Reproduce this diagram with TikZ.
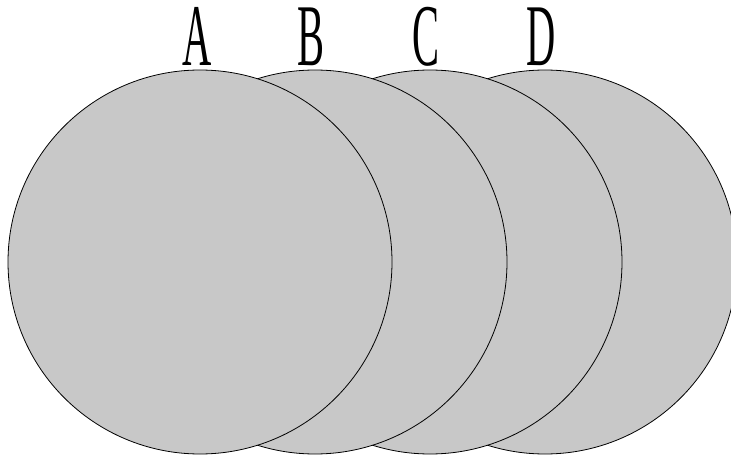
\documentclass[tikz,border=0pt]{standalone}
\usepackage{fontspec}
\setmainfont{Liberation Serif}
\begin{document}
\begin{tikzpicture}[x=1pt,y=-1pt,
  disc/.style={circle, draw=black, line width=0.8pt, fill=discgray, minimum size=384pt, inner sep=0pt},
  lab/.style={anchor=base, inner sep=0pt, font=\fontsize{88}{88}\selectfont}]
\definecolor{discgray}{RGB}{200,200,200}
\useasboundingbox (0,0) rectangle (731,457);
\begin{scope}
\clip (0,0) rectangle (731,457);
\node[disc] (d) at (545,262) {};
\node[disc] (c) at (430,262) {};
\node[disc] (b) at (315,262) {};
\node[disc] (a) at (200,262) {};
\end{scope}
\node[lab] (la) at (197,66) {\scalebox{0.46}[1]{A}};
\node[lab] (lb) at (311,66) {\scalebox{0.46}[1]{B}};
\node[lab] (lc) at (426,66) {\scalebox{0.46}[1]{C}};
\node[lab] (ld) at (541,66) {\scalebox{0.46}[1]{D}};
\end{tikzpicture}
\end{document}
